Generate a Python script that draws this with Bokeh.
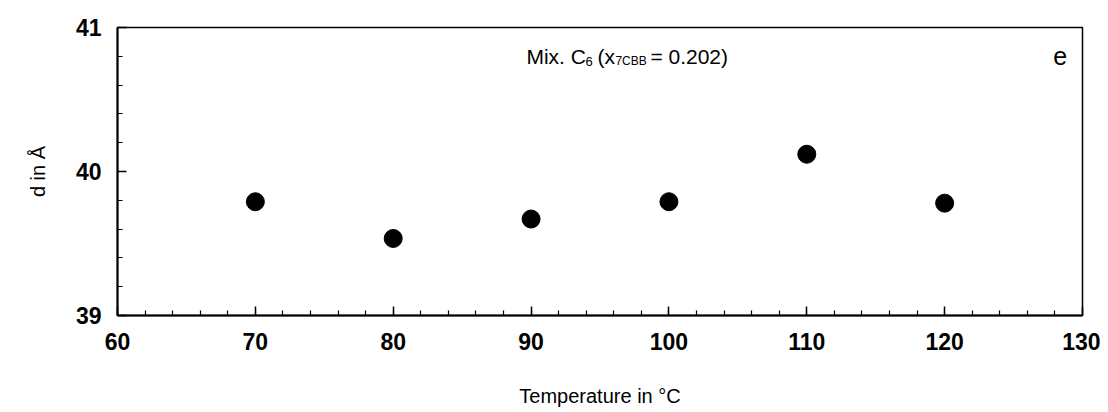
from bokeh.plotting import figure
from bokeh.models import SingleIntervalTicker, Label, Range1d
from bokeh.embed import file_html
from bokeh.resources import INLINE

temperature = [70, 80, 90, 100, 110, 120]
d_spacing = [39.79, 39.535, 39.67, 39.79, 40.12, 39.78]

x_ticks = [60, 70, 80, 90, 100, 110, 120, 130]
y_ticks = [39, 40, 41]

FONT = "Liberation Sans"

p = figure(width=1100, height=410, output_backend="svg", toolbar_location=None,
           x_range=Range1d(60, 130), y_range=Range1d(39, 41),
           min_border_left=117, min_border_right=18, min_border_top=27, min_border_bottom=95)
p.grid.visible = False
p.outline_line_color = "black"
p.outline_line_width = 1.5

p.xaxis.ticker = SingleIntervalTicker(interval=10, num_minor_ticks=5)
p.yaxis.ticker = SingleIntervalTicker(interval=1, num_minor_ticks=5)
for ax in (p.xaxis[0], p.yaxis[0]):
    ax.axis_line_width = 2
    ax.axis_line_color = "black"
    ax.major_tick_in = 9
    ax.major_tick_out = 0
    ax.minor_tick_in = 5
    ax.minor_tick_out = 0
    ax.major_tick_line_width = 1.5
    ax.minor_tick_line_width = 1.2
    ax.major_label_text_font = FONT
    ax.major_label_text_font_style = "bold"
    ax.major_label_text_font_size = "23px"
    ax.major_label_text_color = "black"
    ax.axis_label_text_font = FONT
    ax.axis_label_text_font_style = "normal"
    ax.axis_label_text_font_size = "20px"
    ax.axis_label_text_color = "black"

p.xaxis.major_label_standoff = 17
p.yaxis.major_label_standoff = 16
p.xaxis.axis_label = "Temperature in °C"
p.yaxis.axis_label = "d in Å"
p.xaxis.axis_label_standoff = 32
p.yaxis.axis_label_standoff = 24

p.scatter(temperature, d_spacing, size=18, color="black")

base_x, base_y = 89.66, 40.80
pieces = [("Mix. C", 0, 0, 21), ("6", 59, -5, 13), ("(x", 71, 0, 21),
          ("7CBB", 89, -5, 12), ("= 0.202)", 124, 0, 21)]
for txt, dx, dy, fs in pieces:
    p.add_layout(Label(x=base_x, y=base_y, x_offset=dx, y_offset=dy, text=txt,
                       text_font=FONT, text_font_size=f"{fs}px", text_color="black",
                       text_baseline="alphabetic", text_align="left"))

p.add_layout(Label(x=128.89, y=40.80, text="e", text_font=FONT, text_font_size="25px",
                   text_color="black", text_align="right", text_baseline="alphabetic"))

open("out.html", "w").write(file_html(p, INLINE))
